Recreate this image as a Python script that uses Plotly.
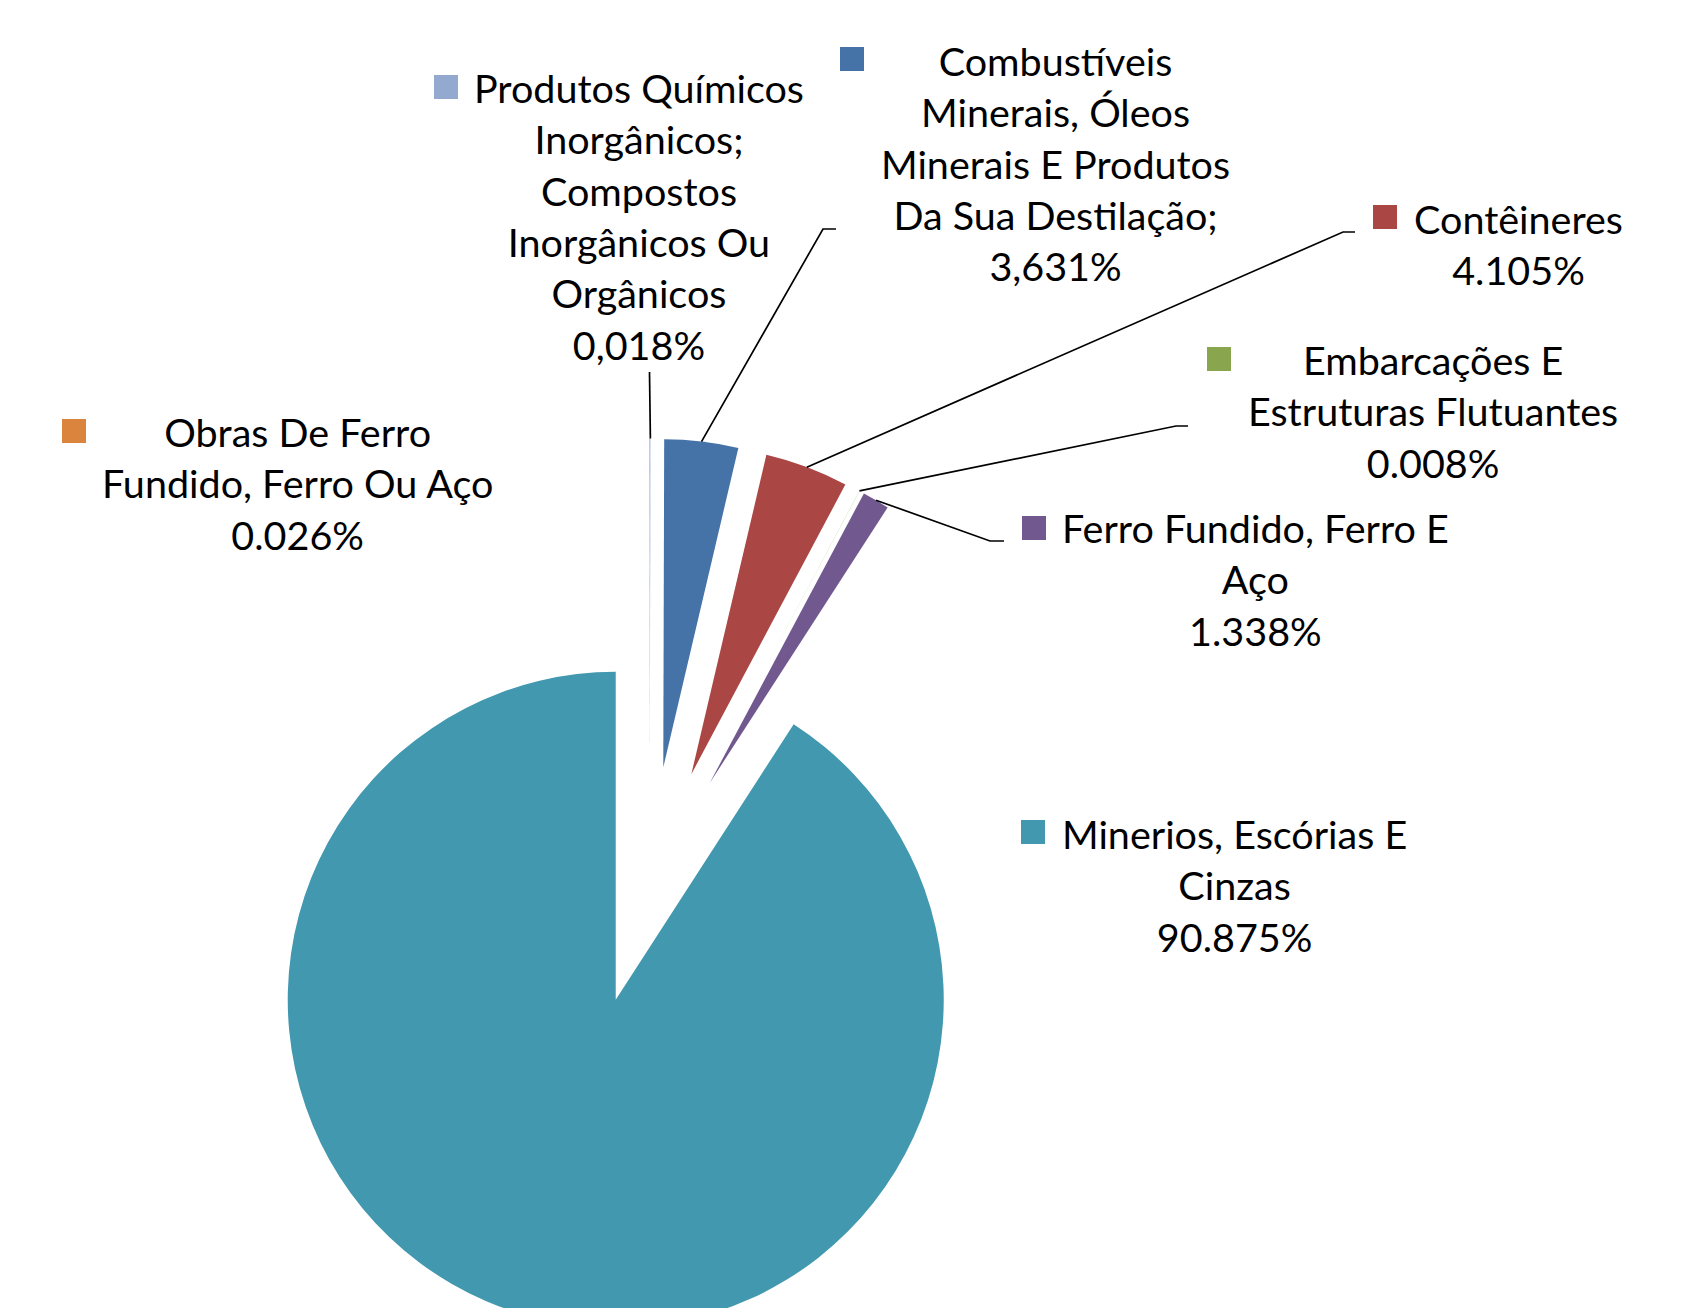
import math
import plotly.graph_objects as go

# ---------------- data ----------------
categories = [
    "Obras De Ferro Fundido, Ferro Ou Aço",
    "Produtos Químicos Inorgânicos; Compostos Inorgânicos Ou Orgânicos",
    "Combustíveis Minerais, Óleos Minerais E Produtos Da Sua Destilação;",
    "Contêineres",
    "Embarcações E Estruturas Flutuantes",
    "Ferro Fundido, Ferro E Aço",
    "Minerios, Escórias E Cinzas",
]
values = [0.026, 0.018, 3.631, 4.105, 0.008, 1.338, 90.875]
pct_text = ["0.026%", "0,018%", "3,631%", "4.105%", "0.008%", "1.338%", "90.875%"]
name_lines = [
    ["Obras De Ferro", "Fundido, Ferro Ou Aço"],
    ["Produtos Químicos", "Inorgânicos;", "Compostos", "Inorgânicos Ou", "Orgânicos"],
    ["Combustíveis", "Minerais, Óleos", "Minerais E Produtos", "Da Sua Destilação;"],
    ["Contêineres"],
    ["Embarcações E", "Estruturas Flutuantes"],
    ["Ferro Fundido, Ferro E", "Aço"],
    ["Minerios, Escórias E", "Cinzas"],
]

# ---------------- style / layout ----------------
colors = ["#DB843D", "#93A9CF", "#4572A7", "#AA4643", "#89A54E", "#71588F", "#4198AF"]
W, H = 1694, 1345          # figure taller than the window: bottom of pie is cut off
OFF = 8                    # page body margin
CX, CY, R, PULL = 649.4, 885.6, 328.0, 0.363
FONT = dict(family="Lato, Calibri, sans-serif", size=39.5, color="#000000")

# label block centres (px) and key-square centres (px), in window coordinates
label_pos = [(297, 483), (639, 215.5), (1055.5, 163), (1518, 244),
             (1432.5, 410.5), (1255, 579), (1234, 885)]
key_pos = [(74, 431), (446, 87), (852, 59), (1385, 217),
           (1219, 359), (1034, 528), (1033, 832)]
# leader-line elbow and end points (px); None = no leader line
leader_pts = [None, [(649.5, 372)], [(823, 229), (836, 229)], [(1343, 232), (1355, 232)],
              [(1176, 426), (1188, 426)], [(990, 541), (1004, 541)], None]
KEY = 24


def px(x):
    return (x - OFF) / W


def py(y):
    return 1 - (y - OFF) / H


box = 2 * R * (1 + PULL)
domain = dict(x=[px(CX - box / 2), px(CX + box / 2)],
              y=[py(CY + box / 2), py(CY - box / 2)])

fig = go.Figure(go.Pie(
    labels=categories, values=values, sort=False, direction="clockwise", rotation=0,
    pull=[PULL] * len(values), marker=dict(colors=colors, line=dict(width=0)),
    textinfo="none", hoverinfo="label+percent", showlegend=False, domain=domain,
))

# geometry of slice mid-angles (from the data) for leader lines
total = sum(values)
cum = 0.0
shapes = []
for i, v in enumerate(values):
    mid = (cum + v / 2) / total * 2 * math.pi
    cum += v
    Rout = R * (1 + PULL)
    sx, sy = CX + Rout * math.sin(mid), CY - Rout * math.cos(mid)
    if leader_pts[i]:
        pts = [(sx, sy)] + leader_pts[i]
        path = "M " + " L ".join(f"{px(a):.5f},{py(b):.5f}" for a, b in pts)
        shapes.append(dict(type="path", path=path, xref="paper", yref="paper",
                           line=dict(color="#000000", width=1.7)))
    kx, ky = key_pos[i]
    shapes.append(dict(type="rect", xref="paper", yref="paper",
                       x0=px(kx - KEY / 2), x1=px(kx + KEY / 2),
                       y0=py(ky + KEY / 2), y1=py(ky - KEY / 2),
                       fillcolor=colors[i], line=dict(width=0)))

annotations = []
for i in range(len(values)):
    lx, ly = label_pos[i]
    annotations.append(dict(
        text="<br>".join(name_lines[i] + [pct_text[i]]),
        x=px(lx), y=py(ly), xref="paper", yref="paper",
        xanchor="center", yanchor="middle", align="center",
        showarrow=False, font=FONT,
    ))

fig.update_layout(
    width=W, height=H, margin=dict(l=0, r=0, t=0, b=0),
    paper_bgcolor="white", plot_bgcolor="white",
    shapes=shapes, annotations=annotations,
)

fig.write_html("out.html")
